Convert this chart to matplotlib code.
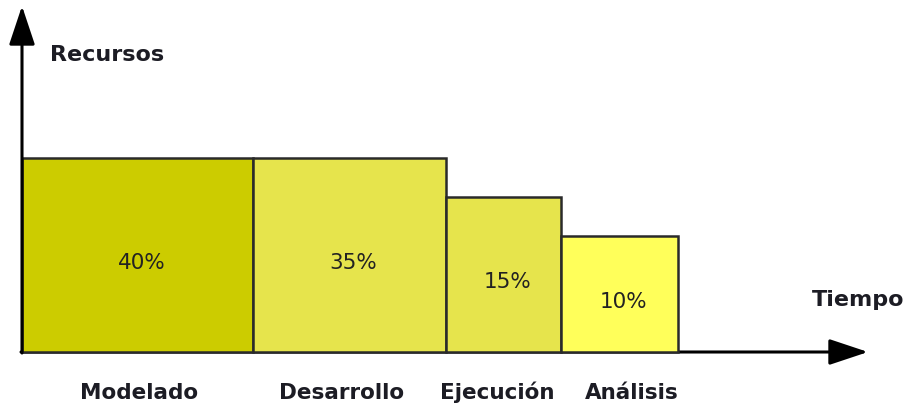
import matplotlib.pyplot as plt

plt.rcParams['font.family'] = ['DejaVu Sans']

fases = ['Modelado', 'Desarrollo', 'Ejecución', 'Análisis']
porcentajes = ['40%', '35%', '15%', '10%']
duracion = [231, 193, 115, 117]
recursos = [194, 194, 155, 116]
colores = ['#cccc00', '#e6e44c', '#e6e44c', '#ffff5a']
# small nudges so the phase names sit where they do in the original
label_dx = [2, -8, -6, 12]

fig = plt.figure(figsize=(9.15, 4.13), dpi=100)
ax = fig.add_axes([0, 0, 1, 1])
ax.set_xlim(-22, 893)
ax.set_ylim(-61, 352)
ax.axis('off')

# bars placed one after another along the time axis
lefts = [sum(duracion[:i]) for i in range(len(duracion))]
ax.bar(lefts, recursos, width=duracion, align='edge', color=colores,
       edgecolor='#2a2a2a', linewidth=1.8, zorder=2)

for x, w, h, p, f, dx in zip(lefts, duracion, recursos, porcentajes, fases, label_dx):
    ax.text(x + w / 2 + 4, h / 2 - 8, p, ha='center', va='center',
            fontsize=15.5, color='#222222', zorder=3)
    ax.text(x + w / 2 + dx, -47, f, ha='center', va='baseline',
            fontsize=15.5, fontweight='bold', color='#1c1c24')

# axes arrows
ax.annotate('', xy=(0, 346), xytext=(0, -1),
            arrowprops=dict(arrowstyle='-|>,head_length=2.4,head_width=0.8',
                            color='black', lw=2.2, shrinkA=0, shrinkB=0),
            zorder=4)
ax.annotate('', xy=(846, 0), xytext=(-1, 0),
            arrowprops=dict(arrowstyle='-|>,head_length=2.4,head_width=0.8',
                            color='black', lw=2.2, shrinkA=0, shrinkB=0),
            zorder=1)

ax.text(28, 297, 'Recursos', ha='left', va='center', fontsize=16,
        fontweight='bold', color='#1c1c24')
ax.text(790, 52, 'Tiempo', ha='left', va='center', fontsize=16,
        fontweight='bold', color='#1c1c24')

fig.savefig('out.png', dpi=100)
